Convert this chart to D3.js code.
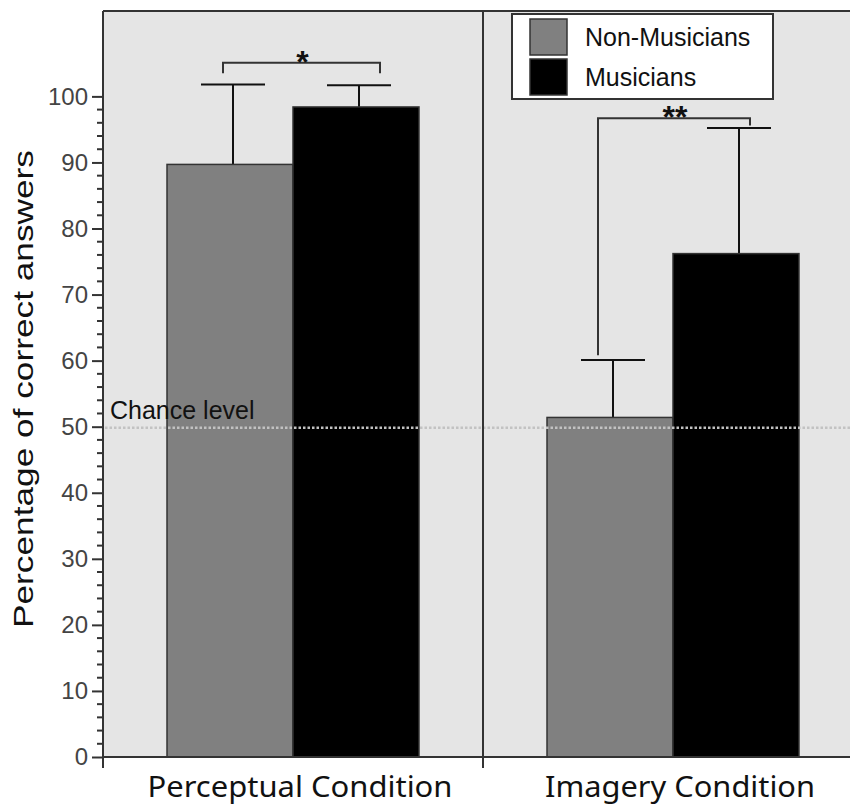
<!DOCTYPE html>
<html>
<head>
<meta charset="utf-8">
<script src="https://cdn.jsdelivr.net/npm/d3@7"></script>
<style>
  body { margin: 0; background: #fff; }
  svg { display: block; font-family: "Liberation Sans", Arial, sans-serif; }
</style>
</head>
<body>
<div id="chart"></div>
<script>
// data
var conditions = ["Perceptual Condition", "Imagery Condition"];
var groups = ["Non-Musicians", "Musicians"];
var groupColors = ["#808080", "#000000"];
var meanNonMusicians = [89.7, 51.4];
var meanMusicians = [98.4, 76.2];
var errNonMusicians = [12.1, 8.7];   // upper error (SD)
var errMusicians = [3.3, 19.0];
var yTicks = [0, 10, 20, 30, 40, 50, 60, 70, 80, 90, 100];
var chanceLevel = 50;
var sigLabels = ["*", "**"];
var sigBarY = [105.1, 96.7];          // bracket height
var sigLegLeft = [103.5, 60.8];       // left leg end
var sigLegRight = [103.5, 95.6];      // right leg end

var width = 850, height = 804;
var plotLeft = 103, plotRight = 863, plotTop = 11, plotBottom = 757;

var svg = d3.select("#chart").append("svg")
    .attr("width", width)
    .attr("height", height);

var y = d3.scaleLinear()
    .domain([0, 113])
    .range([plotBottom, plotTop - 0.5]);

var x = d3.scaleBand()
    .domain(conditions)
    .range([plotLeft, plotRight])
    .paddingInner(0).paddingOuter(0);

var xSub = d3.scaleBand()
    .domain(groups)
    .range([0, x.bandwidth()])
    .paddingInner(0)
    .paddingOuter(0.508);

var color = d3.scaleOrdinal().domain(groups).range(groupColors);

// plot background
svg.append("rect")
    .attr("x", plotLeft).attr("y", plotTop)
    .attr("width", plotRight - plotLeft).attr("height", plotBottom - plotTop)
    .attr("fill", "#e5e5e5");

var rows = [];
conditions.forEach(function(c, i) {
    rows.push({cond: c, group: groups[0], mean: meanNonMusicians[i], err: errNonMusicians[i]});
    rows.push({cond: c, group: groups[1], mean: meanMusicians[i], err: errMusicians[i]});
});

function cx(d) { return x(d.cond) + xSub(d.group) + xSub.bandwidth() / 2 + 3; }

// error bars (upper only)
var eb = svg.append("g").attr("stroke", "#111").attr("stroke-width", 2);
eb.selectAll("line.stem")
    .data(rows).join("line")
    .attr("class", "stem")
    .attr("x1", cx).attr("x2", cx)
    .attr("y1", d => y(d.mean)).attr("y2", d => y(d.mean + d.err));
eb.selectAll("line.cap")
    .data(rows).join("line")
    .attr("class", "cap")
    .attr("x1", d => cx(d) - 32).attr("x2", d => cx(d) + 32)
    .attr("y1", d => y(d.mean + d.err)).attr("y2", d => y(d.mean + d.err));

// bars
svg.append("g").selectAll("rect")
    .data(rows).join("rect")
    .attr("x", d => x(d.cond) + xSub(d.group))
    .attr("y", d => y(d.mean))
    .attr("width", xSub.bandwidth())
    .attr("height", d => y(0) - y(d.mean))
    .attr("fill", d => color(d.group))
    .attr("stroke", "#333")
    .attr("stroke-width", 1.5);

// chance level
svg.append("line")
    .attr("x1", plotLeft + 2).attr("x2", plotRight)
    .attr("y1", y(chanceLevel) + 1).attr("y2", y(chanceLevel) + 1)
    .attr("stroke", "#c2c2c2")
    .attr("stroke-width", 2.5)
    .attr("stroke-dasharray", "2.5,2");
svg.append("text")
    .attr("x", plotLeft + 7).attr("y", y(chanceLevel) - 8)
    .attr("font-size", 25)
    .attr("fill", "#111")
    .text("Chance level");

// significance brackets
var legOffL = [-7, -12], legOffR = [24, 14];
var br = svg.append("g").attr("stroke", "#333").attr("stroke-width", 2).attr("fill", "none");
conditions.forEach(function(c, i) {
    var x1 = x(c) + xSub(groups[0]) + xSub.bandwidth() / 2 + legOffL[i];
    var x2 = x(c) + xSub(groups[1]) + xSub.bandwidth() / 2 + legOffR[i];
    br.append("path")
        .attr("d", "M" + x1 + "," + y(sigLegLeft[i]) + "V" + y(sigBarY[i]) +
                   "H" + x2 + "V" + y(sigLegRight[i]));
    svg.append("text")
        .attr("x", (x1 + x2) / 2 + 1)
        .attr("y", y(sigBarY[i]) + 10)
        .attr("text-anchor", "middle")
        .attr("font-size", 32)
        .attr("font-weight", "bold")
        .attr("fill", "#111")
        .text(sigLabels[i]);
});

// frame: top border, divider, axes
var frame = svg.append("g").attr("stroke", "#333").attr("stroke-width", 2);
frame.append("line").attr("x1", plotLeft).attr("x2", width).attr("y1", plotTop).attr("y2", plotTop);
frame.append("line").attr("x1", plotLeft).attr("x2", plotLeft).attr("y1", plotTop).attr("y2", plotBottom + 11);
frame.append("line").attr("x1", x(conditions[1])).attr("x2", x(conditions[1]))
    .attr("y1", plotTop).attr("y2", plotBottom + 11);
frame.append("line").attr("x1", plotLeft).attr("x2", width).attr("y1", plotBottom).attr("y2", plotBottom);

// y axis: major ticks with labels, minor ticks every 2
var yAxis = d3.axisLeft(y).tickValues(yTicks).tickSize(11).tickPadding(4);
var gy = svg.append("g").attr("transform", "translate(" + plotLeft + ",0)").call(yAxis);
gy.select(".domain").remove();
gy.selectAll(".tick line").attr("stroke", "#333").attr("stroke-width", 2);
gy.selectAll(".tick text")
    .attr("font-size", 24)
    .attr("fill", "#444")
    .attr("font-family", "Liberation Sans, Arial, sans-serif");

var minor = d3.range(0, 101, 2).filter(v => v % 10 !== 0);
svg.append("g").selectAll("line")
    .data(minor).join("line")
    .attr("x1", plotLeft - 6).attr("x2", plotLeft)
    .attr("y1", d => y(d)).attr("y2", d => y(d))
    .attr("stroke", "#333").attr("stroke-width", 2);

// category labels
var catWidths = [305, 270];
svg.append("g").selectAll("text")
    .data(conditions).join("text")
    .attr("x", d => x(d) + x.bandwidth() / 2 + 7)
    .attr("y", 797)
    .attr("text-anchor", "middle")
    .attr("font-family", "'Noto Sans', sans-serif")
    .attr("font-size", 29)
    .attr("fill", "#111")
    .attr("textLength", (d, i) => catWidths[i])
    .attr("lengthAdjust", "spacingAndGlyphs")
    .text(d => d);

// y title
svg.append("text")
    .attr("transform", "translate(33,389) rotate(-90)")
    .attr("text-anchor", "middle")
    .attr("font-size", 28)
    .attr("fill", "#111")
    .attr("textLength", 478)
    .attr("lengthAdjust", "spacingAndGlyphs")
    .text("Percentage of correct answers");

// legend
var lg = svg.append("g");
lg.append("rect")
    .attr("x", 512).attr("y", 14).attr("width", 261).attr("height", 85)
    .attr("fill", "#fff").attr("stroke", "#333").attr("stroke-width", 2);
groups.forEach(function(g, i) {
    lg.append("rect")
        .attr("x", 530).attr("y", 19 + i * 40)
        .attr("width", 37).attr("height", 36)
        .attr("fill", color(g)).attr("stroke", "#333").attr("stroke-width", 1.5);
    lg.append("text")
        .attr("x", 585).attr("y", 46 + i * 39.5)
        .attr("font-size", 25)
        .attr("fill", "#111")
        .text(g);
});
</script>
</body>
</html>
